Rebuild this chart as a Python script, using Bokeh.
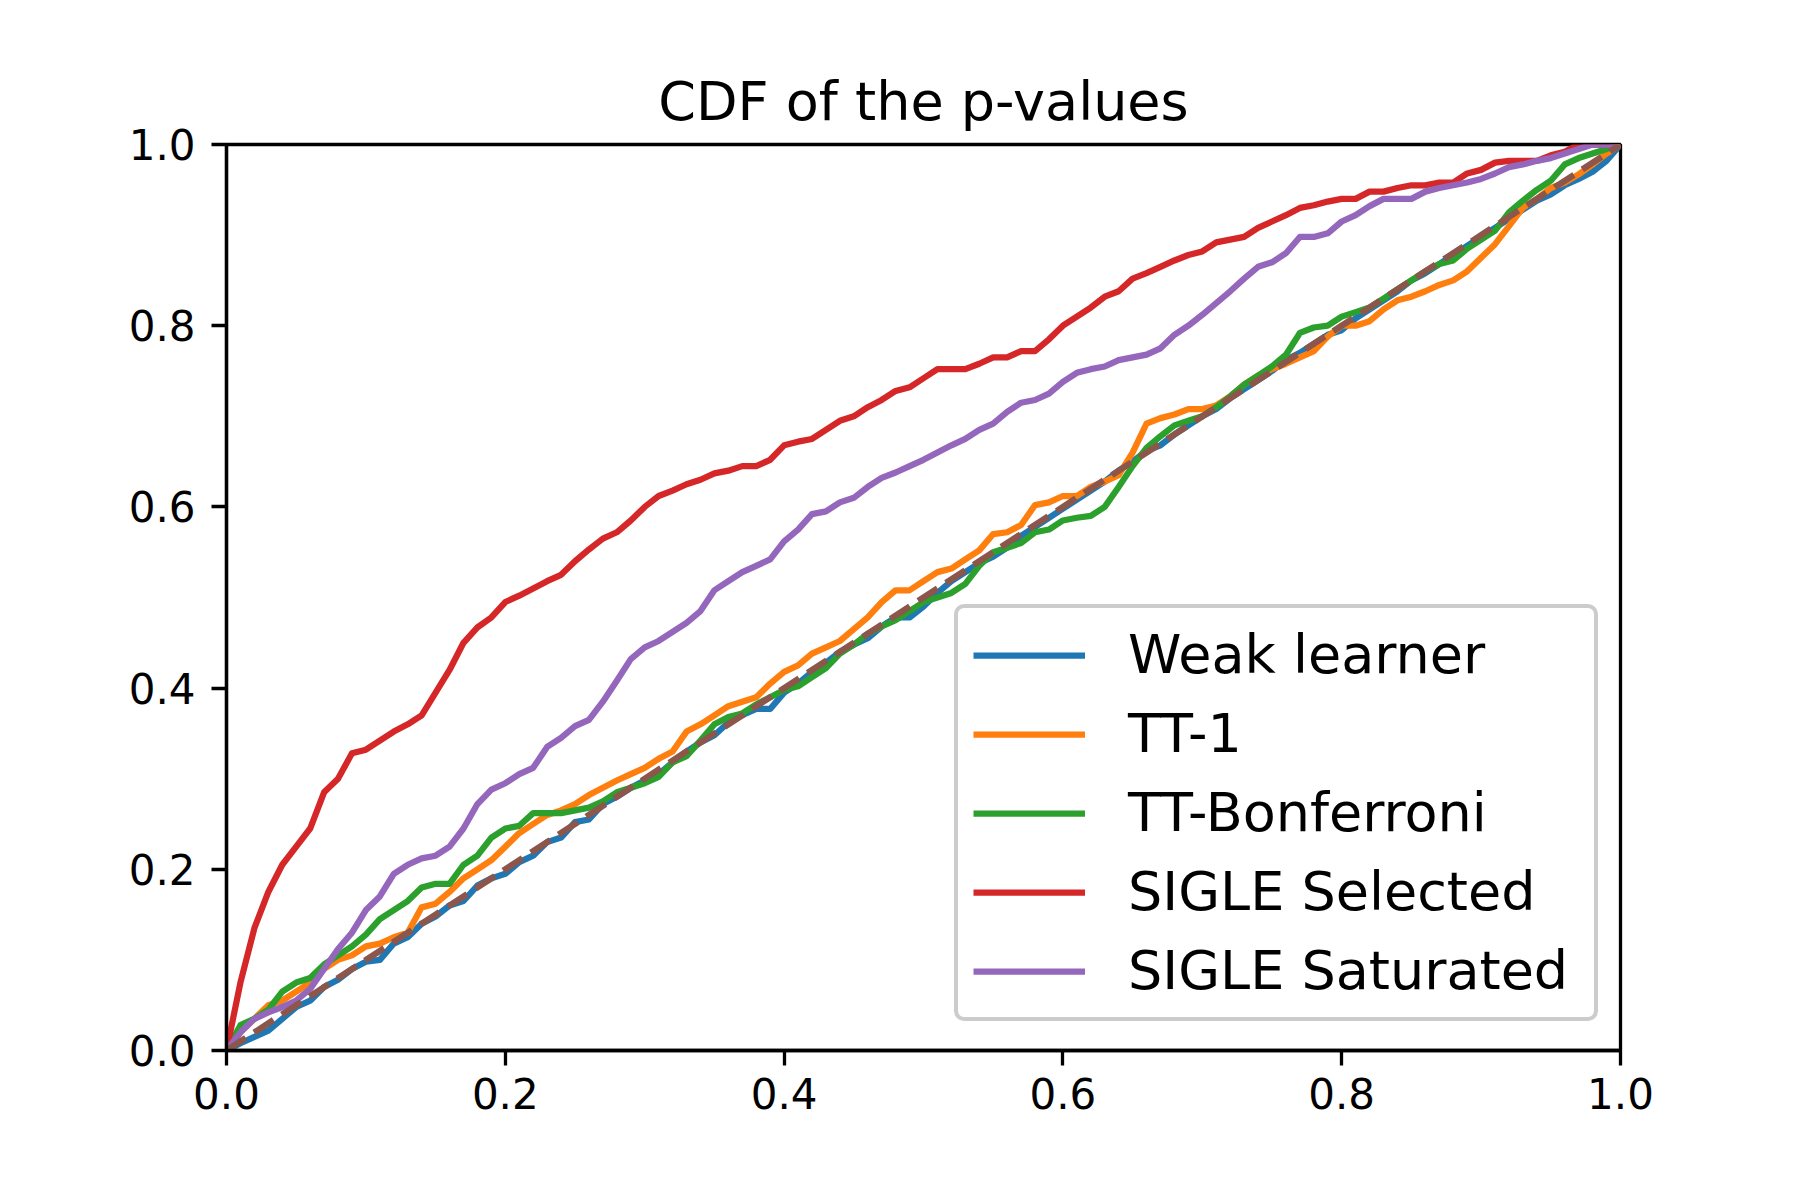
from bokeh.plotting import figure
from bokeh.models import Range1d, FixedTicker, Legend, LegendItem, CustomJSTickFormatter
from bokeh.embed import file_html
from bokeh.resources import INLINE

# evaluation points (p-value thresholds)
p_grid = [0.00, 0.01, 0.02, 0.03, 0.04, 0.05, 0.06, 0.07, 0.08, 0.09,
          0.10, 0.11, 0.12, 0.13, 0.14, 0.15, 0.16, 0.17, 0.18, 0.19,
          0.20, 0.21, 0.22, 0.23, 0.24, 0.25, 0.26, 0.27, 0.28, 0.29,
          0.30, 0.31, 0.32, 0.33, 0.34, 0.35, 0.36, 0.37, 0.38, 0.39,
          0.40, 0.41, 0.42, 0.43, 0.44, 0.45, 0.46, 0.47, 0.48, 0.49,
          0.50, 0.51, 0.52, 0.53, 0.54, 0.55, 0.56, 0.57, 0.58, 0.59,
          0.60, 0.61, 0.62, 0.63, 0.64, 0.65, 0.66, 0.67, 0.68, 0.69,
          0.70, 0.71, 0.72, 0.73, 0.74, 0.75, 0.76, 0.77, 0.78, 0.79,
          0.80, 0.81, 0.82, 0.83, 0.84, 0.85, 0.86, 0.87, 0.88, 0.89,
          0.90, 0.91, 0.92, 0.93, 0.94, 0.95, 0.96, 0.97, 0.98, 0.99, 1.00]

weak_learner = [0.000, 0.008, 0.015, 0.022, 0.035, 0.048, 0.055, 0.070, 0.078, 0.090,
                0.098, 0.100, 0.118, 0.125, 0.140, 0.148, 0.160, 0.165, 0.182, 0.190,
                0.195, 0.208, 0.215, 0.230, 0.235, 0.252, 0.255, 0.272, 0.280, 0.290,
                0.298, 0.305, 0.318, 0.330, 0.340, 0.348, 0.362, 0.370, 0.377, 0.377,
                0.395, 0.405, 0.418, 0.428, 0.440, 0.448, 0.455, 0.468, 0.478, 0.478,
                0.490, 0.505, 0.518, 0.528, 0.538, 0.545, 0.555, 0.568, 0.578, 0.588,
                0.598, 0.608, 0.618, 0.628, 0.640, 0.650, 0.662, 0.668, 0.680, 0.690,
                0.700, 0.708, 0.720, 0.730, 0.740, 0.750, 0.762, 0.770, 0.780, 0.790,
                0.795, 0.808, 0.818, 0.828, 0.838, 0.850, 0.858, 0.868, 0.878, 0.888,
                0.898, 0.908, 0.918, 0.928, 0.938, 0.945, 0.955, 0.962, 0.970, 0.982, 1.000]

tt_1 = [0.000, 0.020, 0.035, 0.050, 0.055, 0.065, 0.075, 0.090, 0.100, 0.105,
        0.115, 0.118, 0.125, 0.130, 0.158, 0.162, 0.175, 0.190, 0.200, 0.210,
        0.225, 0.240, 0.250, 0.260, 0.265, 0.272, 0.282, 0.290, 0.298, 0.305,
        0.312, 0.322, 0.330, 0.352, 0.360, 0.370, 0.380, 0.385, 0.390, 0.405,
        0.418, 0.425, 0.438, 0.445, 0.452, 0.465, 0.478, 0.495, 0.508, 0.508,
        0.518, 0.528, 0.532, 0.542, 0.552, 0.570, 0.572, 0.580, 0.602, 0.605,
        0.612, 0.612, 0.622, 0.628, 0.635, 0.660, 0.692, 0.698, 0.702, 0.708,
        0.708, 0.712, 0.722, 0.735, 0.745, 0.752, 0.758, 0.765, 0.772, 0.788,
        0.800, 0.800, 0.805, 0.818, 0.828, 0.832, 0.838, 0.845, 0.850, 0.860,
        0.875, 0.890, 0.910, 0.930, 0.940, 0.952, 0.958, 0.967, 0.978, 0.990, 1.000]

tt_bonferroni = [0.000, 0.028, 0.035, 0.045, 0.065, 0.075, 0.080, 0.095, 0.105, 0.115,
                 0.128, 0.145, 0.155, 0.165, 0.180, 0.184, 0.184, 0.205, 0.215, 0.235,
                 0.245, 0.248, 0.262, 0.262, 0.262, 0.265, 0.268, 0.275, 0.285, 0.290,
                 0.295, 0.302, 0.318, 0.325, 0.342, 0.360, 0.368, 0.372, 0.382, 0.390,
                 0.398, 0.402, 0.412, 0.422, 0.438, 0.448, 0.460, 0.468, 0.475, 0.485,
                 0.495, 0.500, 0.505, 0.515, 0.535, 0.550, 0.555, 0.560, 0.572, 0.575,
                 0.585, 0.588, 0.590, 0.600, 0.622, 0.645, 0.665, 0.678, 0.690, 0.695,
                 0.700, 0.710, 0.722, 0.735, 0.745, 0.755, 0.768, 0.792, 0.798, 0.800,
                 0.810, 0.815, 0.820, 0.830, 0.840, 0.850, 0.860, 0.868, 0.872, 0.885,
                 0.895, 0.905, 0.925, 0.938, 0.950, 0.960, 0.978, 0.985, 0.990, 0.995, 1.000]

sigle_selected = [0.000, 0.075, 0.135, 0.175, 0.205, 0.225, 0.245, 0.285, 0.300, 0.328,
                  0.332, 0.342, 0.352, 0.360, 0.370, 0.395, 0.420, 0.450, 0.467, 0.478,
                  0.495, 0.502, 0.510, 0.518, 0.525, 0.540, 0.553, 0.565, 0.572, 0.585,
                  0.600, 0.612, 0.618, 0.625, 0.630, 0.637, 0.640, 0.645, 0.645, 0.652,
                  0.668, 0.672, 0.675, 0.685, 0.695, 0.700, 0.710, 0.718, 0.728, 0.732,
                  0.742, 0.752, 0.752, 0.752, 0.758, 0.765, 0.765, 0.772, 0.772, 0.785,
                  0.800, 0.810, 0.820, 0.832, 0.838, 0.852, 0.858, 0.865, 0.872, 0.878,
                  0.882, 0.892, 0.895, 0.898, 0.908, 0.915, 0.922, 0.930, 0.933, 0.937,
                  0.940, 0.940, 0.948, 0.948, 0.952, 0.955, 0.955, 0.958, 0.958, 0.968,
                  0.972, 0.980, 0.982, 0.982, 0.982, 0.988, 0.992, 1.000, 1.000, 1.000, 1.000]

sigle_saturated = [0.000, 0.020, 0.035, 0.042, 0.048, 0.055, 0.068, 0.090, 0.112, 0.130,
                   0.155, 0.170, 0.195, 0.205, 0.212, 0.215, 0.225, 0.245, 0.272, 0.288,
                   0.295, 0.305, 0.312, 0.335, 0.345, 0.358, 0.365, 0.385, 0.408, 0.432,
                   0.445, 0.452, 0.462, 0.472, 0.485, 0.508, 0.518, 0.528, 0.535, 0.542,
                   0.562, 0.575, 0.592, 0.595, 0.605, 0.610, 0.622, 0.632, 0.638, 0.645,
                   0.652, 0.660, 0.668, 0.675, 0.685, 0.692, 0.705, 0.715, 0.718, 0.725,
                   0.738, 0.748, 0.752, 0.755, 0.762, 0.765, 0.768, 0.775, 0.790, 0.800,
                   0.812, 0.825, 0.838, 0.852, 0.865, 0.870, 0.880, 0.898, 0.898, 0.902,
                   0.915, 0.922, 0.932, 0.940, 0.940, 0.940, 0.948, 0.952, 0.955, 0.958,
                   0.962, 0.968, 0.975, 0.978, 0.982, 0.985, 0.990, 0.995, 1.000, 1.000, 1.000]

uniform_x = [0.0, 1.0]
uniform_y = [0.0, 1.0]

series_names = ["Weak learner", "TT-1", "TT-Bonferroni", "SIGLE Selected", "SIGLE Saturated"]
series_values = [weak_learner, tt_1, tt_bonferroni, sigle_selected, sigle_saturated]
series_colors = ["#1f77b4", "#ff7f0e", "#2ca02c", "#d62728", "#9467bd"]
tick_values = [0.0, 0.2, 0.4, 0.6, 0.8, 1.0]

FONT = "DejaVu Sans"
LW = 6.25

p = figure(frame_width=1394, frame_height=906,
           min_border_left=226, min_border_right=164,
           min_border_top=144, min_border_bottom=134,
           x_range=Range1d(0, 1), y_range=Range1d(0, 1),
           output_backend="svg", toolbar_location=None,
           title="CDF of the p-values")

p.background_fill_color = "white"
p.border_fill_color = "white"
p.outline_line_color = "black"
p.outline_line_width = 3.3
p.outline_line_alpha = 1.0
p.xgrid.visible = False
p.ygrid.visible = False

p.title.align = "center"
p.title.text_font = FONT
p.title.text_font_size = "54px"
p.title.text_font_style = "normal"
p.title.text_color = "black"
p.title.standoff = 24

fmt = CustomJSTickFormatter(code="return tick.toFixed(1);")
for ax in (p.xaxis[0], p.yaxis[0]):
    ax.ticker = FixedTicker(ticks=tick_values)
    ax.formatter = fmt
    ax.axis_line_width = 3.3
    ax.axis_line_color = "black"
    ax.major_tick_line_width = 3.3
    ax.major_tick_line_color = "black"
    ax.major_tick_out = 15
    ax.major_tick_in = 0
    ax.minor_tick_line_color = None
    ax.major_label_text_font = FONT
    ax.major_label_text_font_size = "42px"
    ax.major_label_text_color = "black"
p.xaxis[0].major_label_standoff = 12
p.yaxis[0].major_label_standoff = 16

renderers = []
for name, vals, col in zip(series_names, series_values, series_colors):
    r = p.line(p_grid, vals, line_color=col, line_width=LW, line_join="round")
    renderers.append((name, r))

p.line(uniform_x, uniform_y, line_color="#8c564b", line_width=LW, line_dash="23 10")

legend = Legend(items=[LegendItem(label=n, renderers=[r]) for n, r in renderers],
                location=(728, 29))
legend.label_text_font = FONT
legend.label_text_font_size = "54px"
legend.label_text_color = "black"
legend.glyph_width = 112
legend.glyph_height = 60
legend.label_height = 60
legend.label_width = 451
legend.label_standoff = 43
legend.spacing = 16
legend.padding = 15
legend.margin = 0
legend.border_line_color = "#cccccc"
legend.border_line_width = 4
legend.border_line_alpha = 1.0
legend.background_fill_color = "white"
legend.background_fill_alpha = 0.8
legend.border_radius = 10
p.add_layout(legend)

open("out.html", "w").write(file_html(p, INLINE))
